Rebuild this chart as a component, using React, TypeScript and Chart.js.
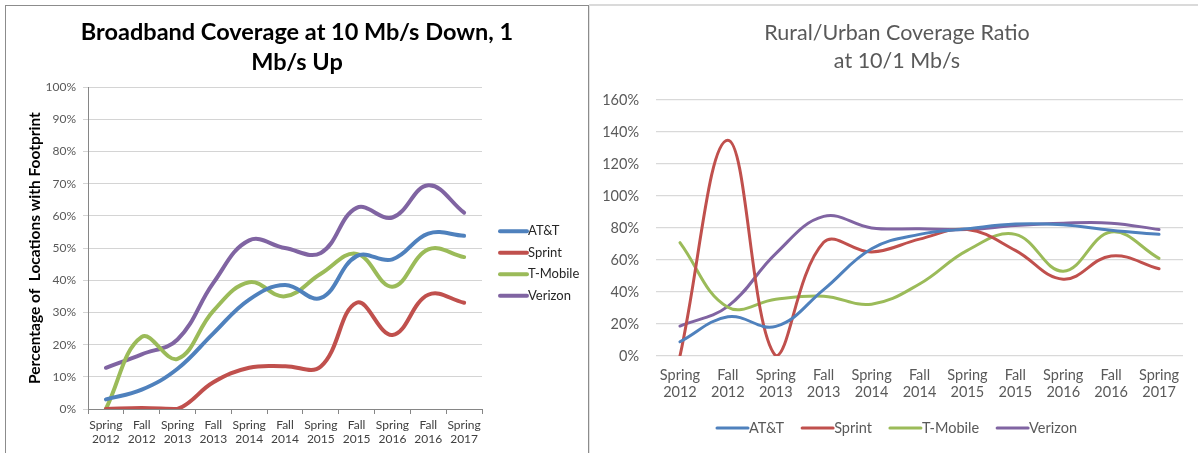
import React, { useEffect, useRef } from "react";
import { Chart, registerables } from "chart.js";

Chart.register(...registerables);

// ---------- data ----------
const categories: string[][] = [
  ["Spring", "2012"], ["Fall", "2012"], ["Spring", "2013"], ["Fall", "2013"],
  ["Spring", "2014"], ["Fall", "2014"], ["Spring", "2015"], ["Fall", "2015"],
  ["Spring", "2016"], ["Fall", "2016"], ["Spring", "2017"],
];
const carriers = ["AT&T", "Sprint", "T-Mobile", "Verizon"];
const carrierColors = ["#4F81BD", "#C0504D", "#9BBB59", "#8064A2"];

// Left: percentage of locations with footprint (10/1 Mb/s)
const coverageATT = [3, 6, 12.5, 23.5, 34, 38.5, 34.5, 47.5, 46.5, 54.5, 53.8];
const coverageSprint = [0, 0.3, 0, 8.3, 12.8, 13.3, 13.2, 33, 23, 35.5, 33];
const coverageTMobile = [0, 22.4, 15.6, 30.5, 39.4, 35, 42, 48.2, 38, 49.6, 47.2];
const coverageVerizon = [12.8, 17, 21.6, 39.2, 52.4, 50, 48.5, 62.5, 59.5, 69.5, 61];

// Right: rural/urban coverage ratio at 10/1 Mb/s
const ratioATT = [8.9, 24.5, 18.5, 41.5, 67, 76, 79.5, 82.5, 82, 78.5, 76];
const ratioSprint = [0, 134.8, 0, 71, 65, 73, 79, 66, 48, 62.5, 54.5];
const ratioTMobile = [70.8, 30.5, 35.5, 37.4, 32.4, 45, 66, 76, 53, 77.5, 61];
const ratioVerizon = [18.7, 31, 64, 87.2, 80, 79.5, 79, 81.5, 83, 83, 79];

const leftTicksMax = 100;
const leftTicksStep = 10;
const rightTicksMax = 160;
const rightTicksStep = 20;

const leftTitle = ["Broadband Coverage at 10 Mb/s Down, 1", "Mb/s Up"];
const leftYTitle = "Percentage of  Locations with Footprint";
const rightTitle = ["Rural/Urban Coverage Ratio", "at 10/1 Mb/s"];

const FONT = "Lato, 'Open Sans', sans-serif";

// ---------- custom line legend ----------
const lineLegendPlugin = {
  id: "lineLegend",
  afterDraw(chart: any, _args: any, opts: any) {
    const ctx = chart.ctx as CanvasRenderingContext2D;
    const area = chart.chartArea;
    const ds = chart.data.datasets;
    ctx.save();
    ctx.font = opts.font;
    ctx.fillStyle = opts.color;
    ctx.textBaseline = "middle";
    ctx.textAlign = "left";
    ctx.lineCap = "round";
    if (opts.vertical) {
      const x0 = area.right + opts.offsetX;
      ds.forEach((d: any, i: number) => {
        const y = area.top + opts.offsetY + i * opts.spacing;
        ctx.strokeStyle = d.borderColor;
        ctx.lineWidth = opts.lineWidth;
        ctx.beginPath();
        ctx.moveTo(x0, y);
        ctx.lineTo(x0 + opts.lineLen, y);
        ctx.stroke();
        ctx.fillText(d.label, x0 + opts.lineLen + opts.textGap, y);
      });
    } else {
      const widths = ds.map((d: any) => opts.lineLen + opts.textGap + ctx.measureText(d.label).width);
      const total = widths.reduce((a: number, b: number) => a + b, 0) + opts.itemGap * (ds.length - 1);
      let x = chart.width / 2 + opts.centerShift - total / 2;
      const y = area.bottom + opts.offsetY;
      ds.forEach((d: any, i: number) => {
        ctx.strokeStyle = d.borderColor;
        ctx.lineWidth = opts.lineWidth;
        ctx.beginPath();
        ctx.moveTo(x, y);
        ctx.lineTo(x + opts.lineLen, y);
        ctx.stroke();
        ctx.fillText(d.label, x + opts.lineLen + opts.textGap, y);
        x += widths[i] + opts.itemGap;
      });
    }
    ctx.restore();
  },
};

function makeDatasets(series: number[][], width: number) {
  return series.map((s, i) => ({
    label: carriers[i],
    data: s,
    borderColor: carrierColors[i],
    backgroundColor: carrierColors[i],
    borderWidth: width,
    pointRadius: 0,
    pointHoverRadius: 0,
    tension: 0.4,
    fill: false,
    borderCapStyle: "round" as const,
  }));
}

function LeftChart() {
  const ref = useRef<HTMLCanvasElement>(null);
  useEffect(() => {
    if (!ref.current) return;
    const chart = new Chart(ref.current, {
      type: "line",
      data: {
        labels: categories,
        datasets: makeDatasets([coverageATT, coverageSprint, coverageTMobile, coverageVerizon], 4),
      },
      plugins: [lineLegendPlugin],
      options: {
        responsive: false,
        animation: false,
        layout: { padding: 0 },
        plugins: {
          legend: { display: false },
          tooltip: { enabled: false },
          title: {
            display: true,
            text: leftTitle,
            color: "#000",
            font: { family: FONT, size: 23.5, weight: "bold", lineHeight: 1.28 },
            padding: { top: 11, bottom: 10 },
          },
          lineLegend: {
            vertical: true,
            offsetX: 18,
            offsetY: 144,
            spacing: 21.5,
            lineLen: 27,
            lineWidth: 4,
            textGap: 1,
            font: `13px ${FONT}`,
            color: "#262626",
          },
        } as any,
        scales: {
          x: {
            offset: true,
            grid: {
              offset: true,
              drawOnChartArea: false,
              drawTicks: true,
              tickLength: 5,
              color: "#868686",
            },
            border: { display: true, color: "#868686", width: 1 },
            ticks: {
              color: "#404040",
              font: { family: FONT, size: 12, lineHeight: 1.2 },
              padding: 4,
              maxRotation: 0,
              autoSkip: false,
            },
            afterFit: (s: any) => { s.height = 44; },
          },
          y: {
            min: 0,
            max: leftTicksMax,
            grid: { color: "#d4d4d4", tickLength: 5, drawTicks: true },
            border: { display: true, color: "#868686", width: 1 },
            ticks: {
              stepSize: leftTicksStep,
              color: "#595959",
              padding: 7,
              font: { family: FONT, size: 12 },
              callback: (v: any) => `${v}%`,
            },
            title: {
              display: true,
              text: leftYTitle,
              color: "#000",
              font: { family: FONT, size: 15.5, weight: "bold" },
              padding: { top: 20, bottom: 0 },
            },
            afterFit: (s: any) => { s.width = 82; },
          },
          yLegendSpace: {
            position: "right",
            display: true,
            grid: { display: false, drawTicks: false },
            border: { display: false },
            ticks: { display: false },
            afterFit: (s: any) => { s.width = 106; },
          },
        } as any,
      },
    });
    return () => chart.destroy();
  }, []);
  return <canvas ref={ref} width={582} height={447} style={{ display: "block" }} />;
}

function RightChart() {
  const ref = useRef<HTMLCanvasElement>(null);
  useEffect(() => {
    if (!ref.current) return;
    const chart = new Chart(ref.current, {
      type: "line",
      data: {
        labels: categories,
        datasets: makeDatasets([ratioATT, ratioSprint, ratioTMobile, ratioVerizon], 3),
      },
      plugins: [lineLegendPlugin],
      options: {
        responsive: false,
        animation: false,
        layout: { padding: { left: 6, right: 0, top: 0, bottom: 0 } },
        plugins: {
          legend: { display: false },
          tooltip: { enabled: false },
          title: {
            display: true,
            text: rightTitle,
            color: "#595959",
            font: { family: FONT, size: 21.5, weight: "normal", lineHeight: 1.3 },
            padding: { top: 13, bottom: 25 },
          },
          lineLegend: {
            vertical: false,
            offsetY: 72,
            lineLen: 31,
            lineWidth: 3,
            textGap: 1,
            itemGap: 18,
            centerShift: 3,
            font: `14.5px ${FONT}`,
            color: "#595959",
          },
        } as any,
        scales: {
          x: {
            offset: true,
            grid: { display: false, drawTicks: false },
            border: { display: false },
            ticks: {
              color: "#595959",
              font: { family: FONT, size: 14.5, lineHeight: 1.18 },
              padding: 11,
              maxRotation: 0,
              autoSkip: false,
            },
            afterFit: (s: any) => { s.height = 97; },
          },
          y: {
            min: 0,
            max: rightTicksMax,
            grid: { color: "#d9d9d9", drawTicks: false, lineWidth: 1.3 },
            border: { display: false },
            ticks: {
              stepSize: rightTicksStep,
              color: "#595959",
              padding: 17,
              font: { family: FONT, size: 14.5 },
              callback: (v: any) => `${v}%`,
            },
            afterFit: (s: any) => { s.width = 60; },
          },
          yRightSpace: {
            position: "right",
            display: true,
            grid: { display: false, drawTicks: false },
            border: { display: false },
            ticks: { display: false },
            afterFit: (s: any) => { s.width = 15; },
          },
        } as any,
      },
    });
    return () => chart.destroy();
  }, []);
  return <canvas ref={ref} width={608} height={447} style={{ display: "block" }} />;
}

export default function App() {
  return (
    <div
      style={{
        position: "fixed",
        left: 0,
        top: 0,
        width: 1198,
        height: 453,
        overflow: "hidden",
        background: "#fff",
      }}
    >
      <div
        style={{
          position: "absolute",
          left: 5,
          top: 5,
          width: 582,
          height: 470,
          borderLeft: "1px solid #8c8c8c",
          borderTop: "1px solid #8c8c8c",
          borderRight: "2px solid #8c8c8c",
        }}
      >
        <LeftChart />
      </div>
      <div
        style={{
          position: "absolute",
          left: 589,
          top: 4,
          width: 609,
          height: 470,
          borderTop: "2px solid #dadada",
          borderLeft: "1px solid #e2e2e2",
        }}
      >
        <RightChart />
      </div>
    </div>
  );
}
